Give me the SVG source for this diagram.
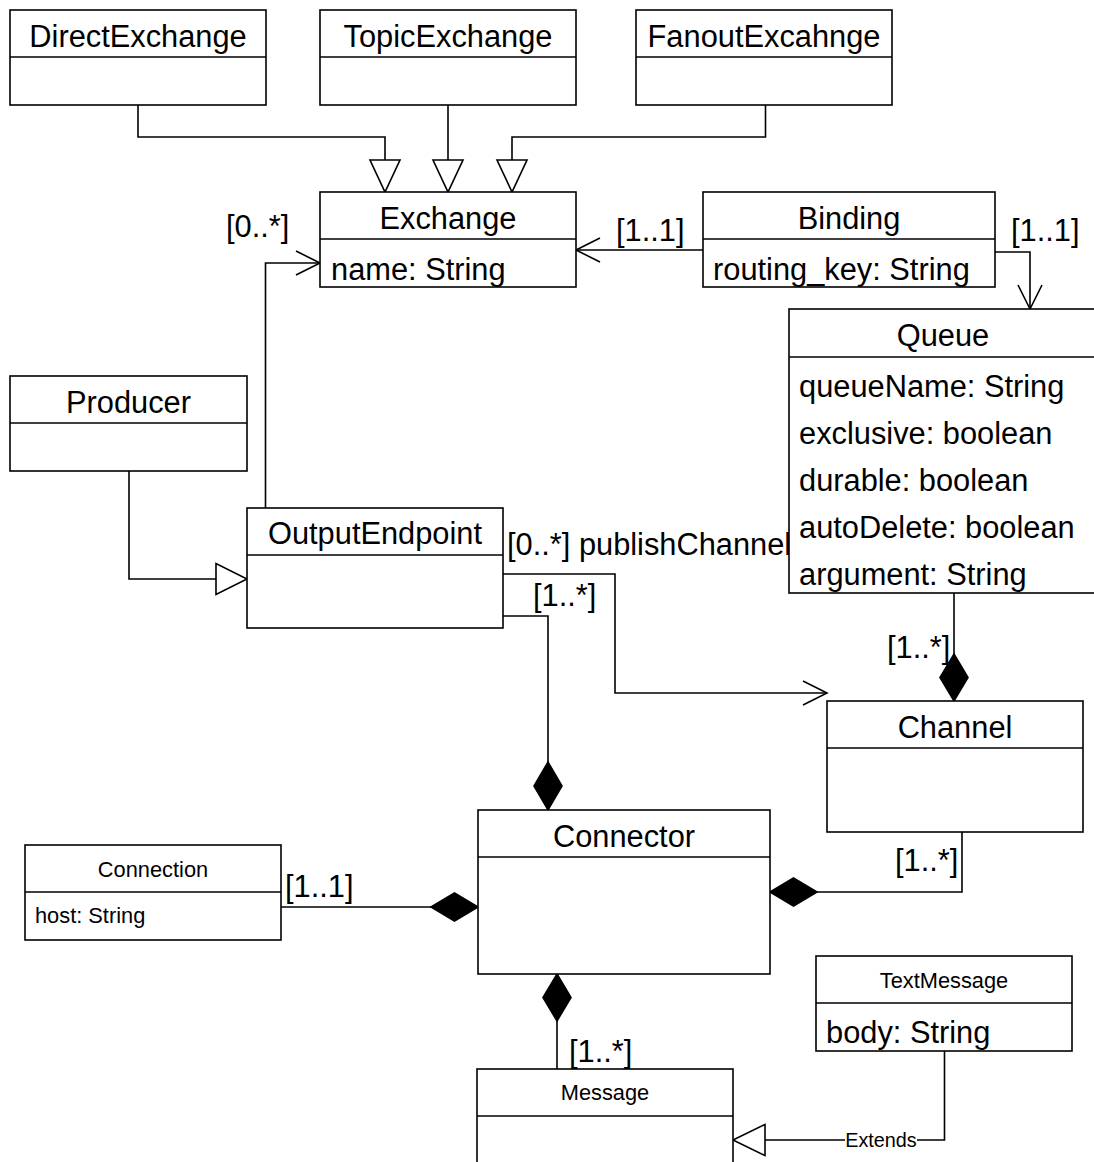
<svg xmlns="http://www.w3.org/2000/svg" width="1094" height="1162" viewBox="0 0 1094 1162">
<style>
.box{fill:#fff;stroke:#000;stroke-width:1.6}
.ln{fill:none;stroke:#000;stroke-width:1.6}
.big{font-family:"Liberation Sans",Arial,sans-serif;font-size:30.8px;fill:#000}
.sm{font-family:"Liberation Sans",Arial,sans-serif;font-size:21.8px;fill:#000}
.c{text-anchor:middle}
.tri{fill:#fff;stroke:#000;stroke-width:1.6}
.dia{fill:#000;stroke:#000;stroke-width:1.6}
</style>
<rect width="1094" height="1162" fill="#fff"/>
<g id="connectors">
  <path class="ln" d="M138,105 V137 H385 V160"/>
  <polygon class="tri" points="370,160 400,160 385,192"/>
  <path class="ln" d="M448,105 V160"/>
  <polygon class="tri" points="433,160 463,160 448,192"/>
  <path class="ln" d="M765.5,105 V137 H512 V160"/>
  <polygon class="tri" points="497,160 527,160 512,192"/>
  <path class="ln" d="M265.5,508 V263 H320"/>
  <path class="ln" d="M296,251 L320,263 L296,275"/>
  <text class="big" x="226" y="237">[0..*]</text>
  <path class="ln" d="M703,250 H576"/>
  <path class="ln" d="M600,238 L576,250 L600,262"/>
  <text class="big" x="616" y="241">[1..1]</text>
  <path class="ln" d="M995,252 H1030 V309"/>
  <path class="ln" d="M1018,285 L1030,309 L1042,285"/>
  <text class="big" x="1011" y="241">[1..1]</text>
  <path class="ln" d="M129,471 V579 H216"/>
  <polygon class="tri" points="216,563.5 216,594.5 247,579"/>
  <path class="ln" d="M503,574 H615 V693 H827"/>
  <path class="ln" d="M803,681 L827,693 L803,705"/>
  <text class="big" x="507" y="555">[0..*] publishChannel</text>
  <path class="ln" d="M503,616 H548 V762"/>
  <polygon class="dia" points="548,762 562,786 548,810 534,786"/>
  <text class="big" x="533" y="606">[1..*]</text>
  <path class="ln" d="M954,593 V654"/>
  <polygon class="dia" points="954,654 968,677.5 954,701 940,677.5"/>
  <text class="big" x="887" y="658">[1..*]</text>
  <path class="ln" d="M962,832 V892 H817"/>
  <polygon class="dia" points="817,892 793.5,906 770,892 793.5,878"/>
  <text class="big" x="895" y="871">[1..*]</text>
  <path class="ln" d="M279,907 H431"/>
  <polygon class="dia" points="431,907 454.5,893 478,907 454.5,921"/>
  <text class="big" x="285" y="897">[1..1]</text>
  <path class="ln" d="M557,1069 V1021"/>
  <polygon class="dia" points="557,974 571,997.5 557,1021 543,997.5"/>
  <text class="big" x="569" y="1062">[1..*]</text>
  <path class="ln" d="M944.5,1051 V1140 H765"/>
  <polygon class="tri" points="765,1124.5 765,1155.5 733,1140"/>
  <rect x="845" y="1129" width="72" height="22" fill="#fff"/>
  <text x="881" y="1147" class="c" font-family="Liberation Sans, Arial, sans-serif" font-size="19.8">Extends</text>
</g>
<g id="DirectExchange">
  <rect class="box" x="10" y="10" width="256" height="95"/>
  <line class="ln" x1="10" y1="57" x2="266" y2="57"/>
  <text class="big c" x="138" y="47">DirectExchange</text>
</g>
<g id="TopicExchange">
  <rect class="box" x="320" y="10" width="256" height="95"/>
  <line class="ln" x1="320" y1="57" x2="576" y2="57"/>
  <text class="big c" x="448" y="47">TopicExchange</text>
</g>
<g id="FanoutExcahnge">
  <rect class="box" x="636" y="10" width="256" height="95"/>
  <line class="ln" x1="636" y1="57" x2="892" y2="57"/>
  <text class="big c" x="764" y="47">FanoutExcahnge</text>
</g>
<g id="Exchange">
  <rect class="box" x="320" y="192" width="256" height="95"/>
  <line class="ln" x1="320" y1="239" x2="576" y2="239"/>
  <text class="big c" x="448" y="229">Exchange</text>
  <text class="big" x="331" y="280">name: String</text>
</g>
<g id="Binding">
  <rect class="box" x="703" y="192" width="292" height="95"/>
  <line class="ln" x1="703" y1="239" x2="995" y2="239"/>
  <text class="big c" x="849" y="229">Binding</text>
  <text class="big" x="713" y="280">routing_key: String</text>
</g>
<g id="Queue">
  <rect class="box" x="789" y="309" width="308" height="284"/>
  <line class="ln" x1="789" y1="357" x2="1097" y2="357"/>
  <text class="big c" x="943" y="346">Queue</text>
  <text class="big" x="799" y="397">queueName: String</text>
  <text class="big" x="799" y="444">exclusive: boolean</text>
  <text class="big" x="799" y="491">durable: boolean</text>
  <text class="big" x="799" y="538">autoDelete: boolean</text>
  <text class="big" x="799" y="585">argument: String</text>
</g>
<g id="Producer">
  <rect class="box" x="10" y="376" width="237" height="95"/>
  <line class="ln" x1="10" y1="423" x2="247" y2="423"/>
  <text class="big c" x="128.5" y="413">Producer</text>
</g>
<g id="OutputEndpoint">
  <rect class="box" x="247" y="508" width="256" height="120"/>
  <line class="ln" x1="247" y1="555" x2="503" y2="555"/>
  <text class="big c" x="375" y="544">OutputEndpoint</text>
</g>
<g id="Channel">
  <rect class="box" x="827" y="701" width="256" height="131"/>
  <line class="ln" x1="827" y1="748" x2="1083" y2="748"/>
  <text class="big c" x="955" y="738">Channel</text>
</g>
<g id="Connector">
  <rect class="box" x="478" y="810" width="292" height="164"/>
  <line class="ln" x1="478" y1="857" x2="770" y2="857"/>
  <text class="big c" x="624" y="847">Connector</text>
</g>
<g id="Connection">
  <rect class="box" x="25" y="845" width="256" height="95"/>
  <line class="ln" x1="25" y1="892" x2="281" y2="892"/>
  <text class="sm c" x="153" y="877">Connection</text>
  <text class="sm" x="35" y="923">host: String</text>
</g>
<g id="TextMessage">
  <rect class="box" x="816" y="956" width="256" height="95"/>
  <line class="ln" x1="816" y1="1003" x2="1072" y2="1003"/>
  <text class="sm c" x="944" y="988">TextMessage</text>
  <text class="big" x="826" y="1043">body: String</text>
</g>
<g id="Message">
  <rect class="box" x="477" y="1069" width="256" height="110"/>
  <line class="ln" x1="477" y1="1116" x2="733" y2="1116"/>
  <text class="sm c" x="605" y="1100">Message</text>
</g>
</svg>
